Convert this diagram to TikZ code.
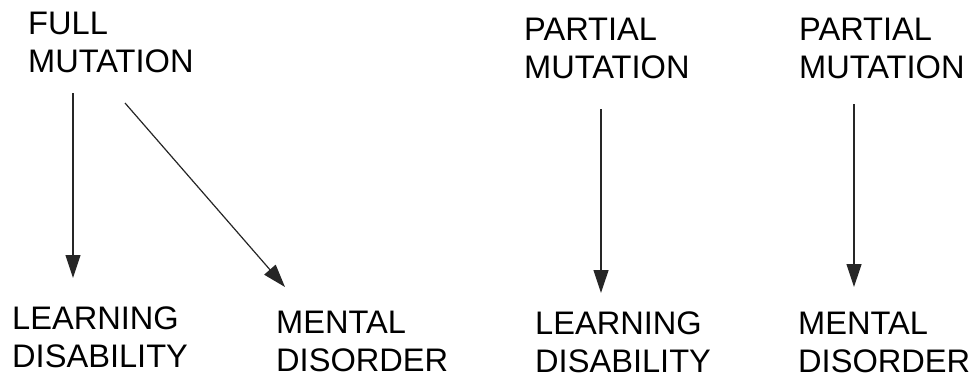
\documentclass[tikz,border=0pt]{standalone}
\usepackage{fontspec}
\setmainfont{Liberation Sans}
\usetikzlibrary{arrows.meta}
\begin{document}
\begin{tikzpicture}[x=1pt,y=1pt,
  lbl/.style={anchor=north west, inner sep=0pt, align=left,
    font=\fontsize{32.6}{37.5}\selectfont},
  arr/.style={line width=1.2pt, draw=black!85,
    -{Triangle[length=23pt,width=15pt]}}]
\useasboundingbox (0,0) rectangle (978,-378);

% causes
\node[lbl] (full)  at (28,-12)  {FULL\\MUTATION};
\node[lbl] (partA) at (524,-18) {PARTIAL\\MUTATION};
\node[lbl] (partB) at (799,-18) {PARTIAL\\MUTATION};

% outcomes
\node[lbl] (ldA) at (12,-307)  {LEARNING\\DISABILITY};
\node[lbl] (mdA) at (276,-311) {MENTAL\\DISORDER};
\node[lbl] (ldB) at (535,-312) {LEARNING\\DISABILITY};
\node[lbl] (mdB) at (798,-312) {MENTAL\\DISORDER};

% arrow end points
\coordinate (s1) at (73,-93);   \coordinate (e1) at (73,-278);
\coordinate (s2) at (125,-103); \coordinate (e2) at (285,-287);
\coordinate (s3) at (601,-109); \coordinate (e3) at (601,-293);
\coordinate (s4) at (854,-104); \coordinate (e4) at (854,-287);

\draw[arr] (s1) -- (e1);
\draw[arr] (s2) -- (e2);
\draw[arr] (s3) -- (e3);
\draw[arr] (s4) -- (e4);
\end{tikzpicture}
\end{document}
